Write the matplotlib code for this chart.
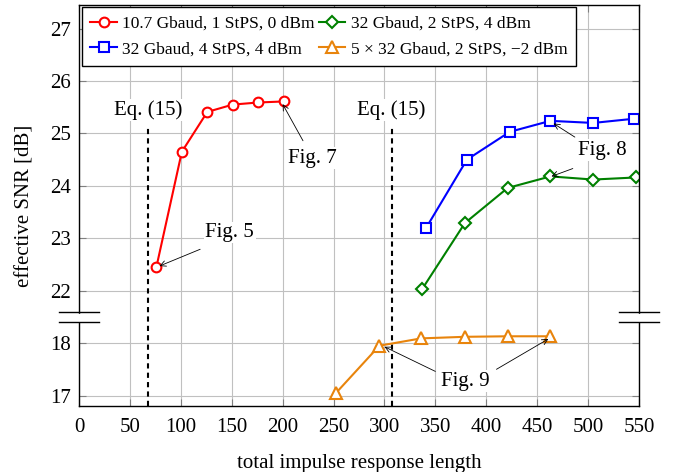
import matplotlib.pyplot as plt
import numpy as np

plt.rcParams['font.family'] = ['Liberation Serif', 'DejaVu Serif']

# lower part of the broken axis is shifted up by this amount
shift = 3

red_x = [76, 101, 126, 151, 176, 201]
red_y = [22.45, 24.65, 25.41, 25.55, 25.59, 25.61]
blue_x = [341, 381, 423, 463, 505, 545]
blue_y = [23.20, 24.50, 25.03, 25.24, 25.20, 25.28]
green_x = [337, 379, 421, 463, 505, 547]
green_y = [22.03, 23.29, 23.96, 24.18, 24.12, 24.16]
orange_x = [252, 295, 336, 379, 421, 463]
orange_y = [17.04, 17.95, 18.09, 18.12, 18.13, 18.13]

eq_x = [68, 307]
ytick_vals = [17, 18, 22, 23, 24, 25, 26, 27]
xtick_vals = list(range(0, 551, 50))

labels = ['10.7 Gbaud, 1 StPS, 0 dBm', '32 Gbaud, 4 StPS, 4 dBm',
          '32 Gbaud, 2 StPS, 4 dBm', '5 × 32 Gbaud, 2 StPS, −2 dBm']

fig = plt.figure(figsize=(6.78, 4.72), dpi=100)
ax = fig.add_axes([79/678, 1 - 406/472, 560/678, 401/472])

orange = '#e8840c'
green = '#008000'
fs = 15
mk = dict(markerfacecolor='white', markeredgewidth=1.5, markersize=7, linewidth=1.5)

l1, = ax.plot(red_x, red_y, color='red', marker='o', **mk)
l2, = ax.plot(blue_x, blue_y, color='blue', marker='s', **mk)
l3, = ax.plot(green_x, green_y, color=green, marker='D', **dict(mk, markersize=6))
l4, = ax.plot(orange_x, np.array(orange_y) + shift, color=orange, marker='^', **dict(mk, markersize=8))

# Eq. (15) dashed lines
for xv in eq_x:
    ax.plot([xv, xv], [19.8, 25.12], color='black', lw=1.5, dashes=(2.5, 2), zorder=1.5)
    ax.text(xv, 25.45, 'Eq. (15)', ha='center', va='center', fontsize=fs,
            bbox=dict(facecolor='white', edgecolor='none', pad=1))

ax.set_xlim(0, 550)
ax.set_ylim(19.8, 27.45)
ax.set_xticks(xtick_vals)
pos = [v + shift if v < 20 else v for v in ytick_vals]
ax.set_yticks(pos)
ax.set_yticklabels([str(v) for v in ytick_vals])
ax.grid(True, color='#c0c0c0', lw=0.8)
ax.set_axisbelow(True)
ax.tick_params(direction='in', length=5, color='#808080', top=True, right=True,
               labelsize=fs, pad=6)
ax.tick_params(axis='x', pad=9)
for s in ax.spines.values():
    s.set_linewidth(1.0)

ax.set_xlabel('total impulse response length', fontsize=fs, labelpad=12)
ax.set_ylabel('effective SNR [dB]', fontsize=fs, labelpad=11)

# annotations
ap = dict(arrowstyle='->', color='black', lw=0.6, shrinkA=0, shrinkB=0)
tb = dict(facecolor='white', edgecolor='none', pad=1)
ax.annotate('', xy=(79, 22.47), xytext=(119, 22.79), arrowprops=ap)
ax.text(148, 23.11, 'Fig. 5', ha='center', va='center', fontsize=fs, bbox=tb)
ax.annotate('', xy=(200, 25.56), xytext=(220, 24.86), arrowprops=ap)
ax.text(229, 24.53, 'Fig. 7', ha='center', va='center', fontsize=fs, bbox=tb)
ax.annotate('', xy=(466, 25.19), xytext=(487, 24.93), arrowprops=ap)
ax.annotate('', xy=(464, 24.18), xytext=(485, 24.33), arrowprops=ap)
ax.text(514, 24.68, 'Fig. 8', ha='center', va='center', fontsize=fs, bbox=tb)
ax.annotate('', xy=(300, 17.93 + shift), xytext=(350, 17.46 + shift), arrowprops=ap)
ax.annotate('', xy=(461, 18.08 + shift), xytext=(410, 17.50 + shift), arrowprops=ap)
ax.text(379, 17.27 + shift, 'Fig. 9', ha='center', va='center', fontsize=fs, bbox=tb)

# axis break marks
tr = ax.get_yaxis_transform()
for xa in [0, 1]:
    ax.fill_between([xa - 0.006, xa + 0.006], 21.43, 21.56, transform=tr,
                    color='white', clip_on=False, zorder=5)
    for yb in [21.40, 21.59]:
        ax.plot([xa - 0.036, xa + 0.036], [yb, yb], transform=tr, color='black',
                lw=1.0, clip_on=False, zorder=6)

leg = ax.legend([l1, l2, l3, l4], labels, loc='upper left', bbox_to_anchor=(0.005, 0.995),
                ncol=2, fontsize=12.5, frameon=True, fancybox=False, framealpha=1,
                edgecolor='black', borderaxespad=0, handlelength=1.5, handletextpad=0.3,
                columnspacing=0.3, labelspacing=0.55, borderpad=0.5)
leg.get_frame().set_linewidth(1.0)

fig.savefig('out.png', dpi=100)
